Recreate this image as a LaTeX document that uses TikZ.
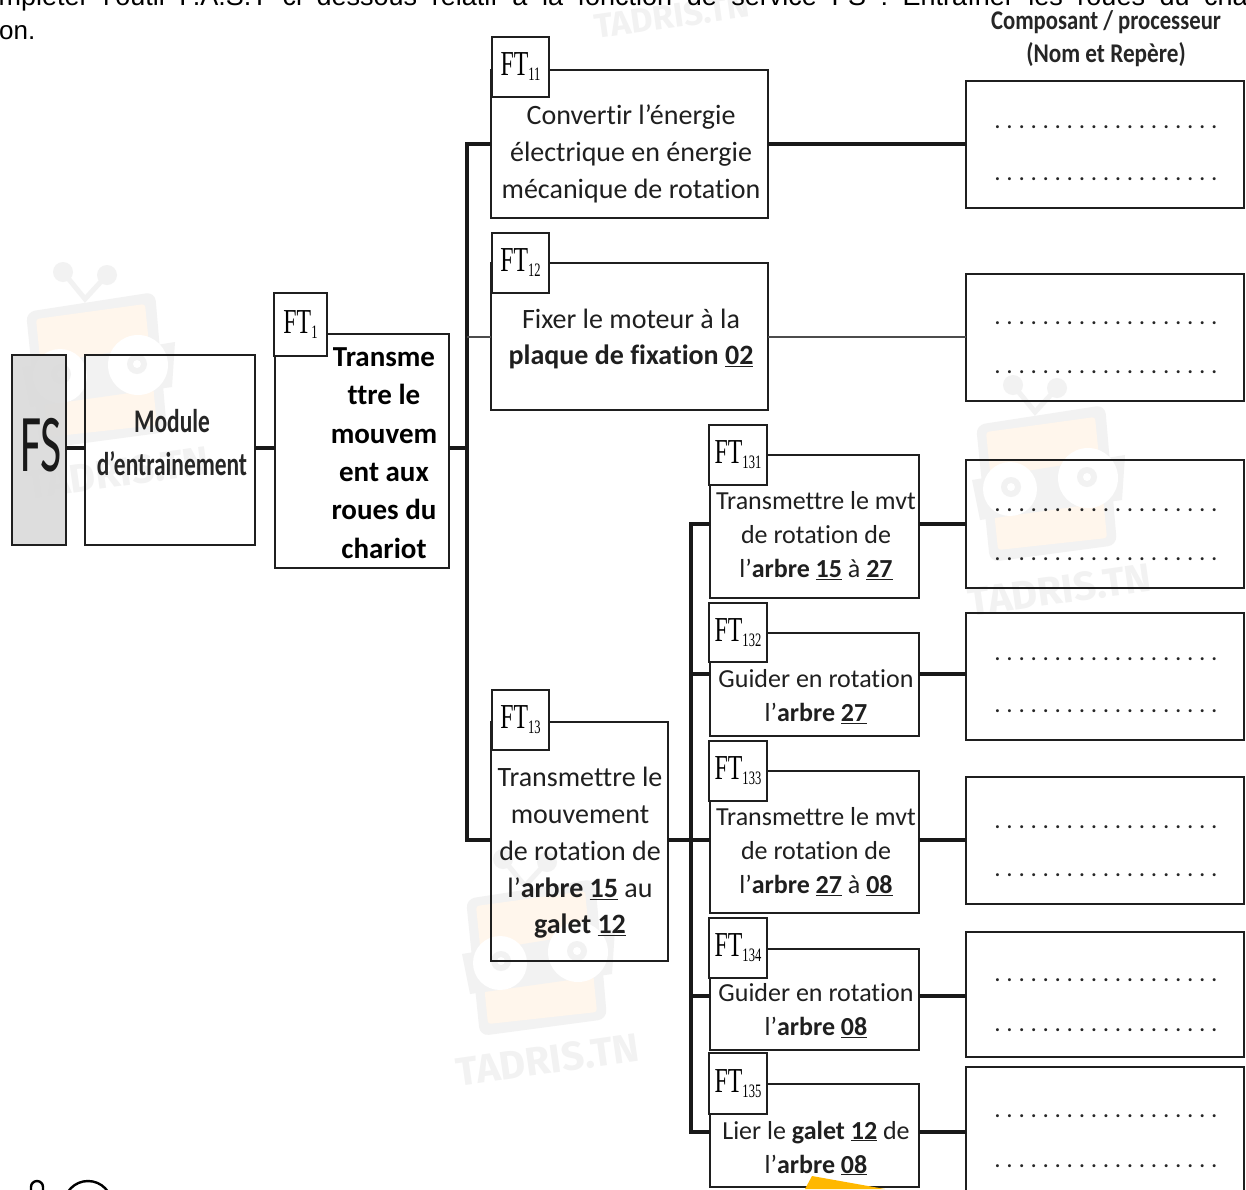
\documentclass[tikz,border=0pt]{standalone}
\usepackage{fontspec}
\setmainfont[Ligatures=NoCommon]{Carlito}
\newfontfamily\serf{Liberation Serif}
\newfontfamily\arial{Liberation Sans}
\newfontfamily\wmf{Fira Sans}
\definecolor{wmgrey}{gray}{0.95}
\definecolor{wmorange}{RGB}{255,246,236}
\definecolor{jaune}{RGB}{255,184,0}
\newcommand{\ftlab}[1]{\raisebox{-2pt}{\serf\fontsize{35}{35}\selectfont\scalebox{0.68}[1]{FT}\raisebox{-5pt}{\fontsize{19}{19}\selectfont\scalebox{0.66}[1]{#1}}}}
\newcommand{\mk}[1]{\textbf{\underline{#1}}}
\newcommand{\dotrow}{{\fontsize{20}{20}\bfseries\selectfont\spaceskip=6.7pt\xspaceskip=6.7pt . . . . . . . . . . . . . . . . . . .}}
\newcommand{\bx}[7][]{%
  \pgfmathsetmacro{\cxx}{(#3+#5)/2}\pgfmathsetmacro{\cyy}{(#4+#6)/2}%
  \pgfmathsetmacro{\wdd}{#5-#3}\pgfmathsetmacro{\htt}{#6-#4}%
  \node[boite,#1,minimum width=\wdd pt,minimum height=\htt pt] (#2) at (\cxx,\cyy) {#7};}
\tikzset{
  boite/.style={draw=black!88,line width=2.9pt,inner sep=0pt,outer sep=0pt,rectangle},
  tagbox/.style={fill=white},
  fsbox/.style={fill=black!15,fill opacity=0.88},
  lien/.style={draw=black!90,line width=3.3pt},
  fin/.style={draw=black!70,line width=2pt},
  txt/.style={align=center,inner sep=0pt,text=black!88,font=\fontsize{28}{36.8}\selectfont},
  txtb/.style={align=center,inner sep=0pt,text=black,font=\bfseries\fontsize{29}{38.4}\selectfont},
  mini/.style={align=center,inner sep=0pt,text=black!88,font=\fontsize{26}{34}\selectfont},
  rowdots/.style={inner sep=0pt,text=black!85},
  wm/.style={text=wmgrey,font=\wmf\bfseries\fontsize{40}{40}\selectfont,inner sep=0pt,rotate=8},
  robot/.pic={
    \draw[wmgrey,line width=5pt] (53,15) -- (75,42) -- (97,18);
    \fill[wmgrey] (53,15) circle (10) (97,18) circle (10);
    \fill[wmgrey,rounded corners=9pt] (16,55) -- (145,35) -- (157,175) -- (30,192) -- cycle;
    \fill[wmorange,rounded corners=3pt] (26,62) -- (135,47) -- (147,168) -- (38,180) -- cycle;
    \fill[wmgrey] (12,110) -- (165,85) -- (162,130) -- (20,150) -- cycle;
    \fill[white] (50,119) circle (27) (128,108) circle (30);
    \fill[wmgrey] (51,117) circle (10) (127,107) circle (10);
    \fill[white] (51,117) circle (4) (127,107) circle (4);
  },
}
\begin{document}
\begin{tikzpicture}[x=1pt,y=-1pt]
\useasboundingbox (0,0) rectangle (1246,1189);
\clip (0,0) rectangle (1246,1189);
\fill[white] (0,0) rectangle (1246,1189);
% watermarks
\pic at (960,370) {robot};
\pic at (450,844) {robot};
\pic at (10,257) {robot};
\node[wm] (w1) at (672,16) {\fontsize{34}{34}\selectfont TADRIS.TN};
\node[wm] (w2) at (548,1060) {TADRIS.TN};
\node[wm] (w3) at (1060,590) {TADRIS.TN};
\node[wm] (w4) at (118,473) {TADRIS.TN};
% header text
\node[anchor=base west,inner sep=0pt,font=\arial\fontsize{27}{27}\selectfont] (t1) at (-36,5) {\spaceskip=14.6pt Compléter l’outil F.A.S.T ci dessous relatif à la fonction de service FS : Entraîner les roues du chariot};
\node[anchor=base west,inner sep=0pt,font=\arial\fontsize{26}{26}\selectfont] (t2) at (-1,39) {on.};
\node[inner sep=0pt,text=black!85] (hd1) at (1106,22) {\bfseries\scalebox{0.84}[1]{\fontsize{27}{33}\selectfont Composant / processeur}};
\node[inner sep=0pt,text=black!85] (hd2) at (1106,55) {\bfseries\scalebox{0.86}[1]{\fontsize{27}{33}\selectfont (Nom et Repère)}};
% boxes
\bx[fsbox]{fs}{12}{355}{66}{545}{}
\bx{mod}{85}{355}{255}{545}{}
\bx{ft1}{275}{334}{449}{568}{}
\bx{ft11}{491}{70}{768}{218}{}
\bx{ft12}{491}{263}{768}{410}{}
\bx{ft13}{491}{722}{668}{961}{}
\bx{a1}{710}{455}{919}{598}{}
\bx{a2}{710}{633}{919}{736}{}
\bx{a3}{710}{771}{919}{913}{}
\bx{a4}{710}{949}{919}{1050}{}
\bx{a5}{710}{1084}{919}{1187}{}
\bx{r1}{966}{81}{1244}{208}{}
\bx{r2}{966}{274}{1244}{401}{}
\bx{r3}{966}{460}{1244}{588}{}
\bx{r4}{966}{613}{1244}{740}{}
\bx{r5}{966}{777}{1244}{904}{}
\bx{r6}{966}{932}{1244}{1057}{}
\bx{r7}{966}{1067}{1244}{1215}{}
% tags
\bx[tagbox]{t0}{274}{293}{327}{356}{\ftlab{1}}
\bx[tagbox]{t11}{492}{37}{549}{97}{\ftlab{11}}
\bx[tagbox]{t12}{492}{233}{549}{293}{\ftlab{12}}
\bx[tagbox]{t13}{492}{690}{549}{750}{\ftlab{13}}
\bx[tagbox]{t131}{709}{425}{767}{485}{\ftlab{131}}
\bx[tagbox]{t132}{709}{603}{767}{662}{\ftlab{132}}
\bx[tagbox]{t133}{709}{741}{767}{801}{\ftlab{133}}
\bx[tagbox]{t134}{709}{918}{767}{978}{\ftlab{134}}
\bx[tagbox]{t135}{709}{1053}{767}{1114}{\ftlab{135}}
% buses and branch levels
\coordinate (bA) at (467,448);
\coordinate (bB) at (691,840);
\coordinate (y1) at (0,524);
\coordinate (y2) at (0,674);
\coordinate (y4) at (0,996);
\coordinate (y5) at (0,1132);
\draw[lien] (fs.east |- bA) -- (mod.west |- bA);
\draw[lien] (mod.east |- bA) -- (ft1.west |- bA);
\draw[lien] (ft1.east |- bA) -- (bA);
\draw[lien] (ft11.west) -- (bA |- ft11.west) -- (bA |- bB) -- (ft13.west |- bB);
\draw[fin] (ft12.west) -- (bA |- ft12.west);
\draw[lien] (ft13.east |- bB) -- (bB);
\draw[lien] (a1.west |- y1) -- (bB |- y1) -- (bB |- y5) -- (a5.west |- y5);
\draw[lien] (a2.west |- y2) -- (bB |- y2);
\draw[lien] (a3.west |- bB) -- (bB);
\draw[lien] (a4.west |- y4) -- (bB |- y4);
\draw[lien] (ft11.east) -- (r1.west |- ft11.east);
\draw[fin] (ft12.east) -- (r2.west |- ft12.east);
\draw[lien] (a1.east |- y1) -- (r3.west |- y1);
\draw[lien] (a2.east |- y2) -- (r4.west |- y2);
\draw[lien] (a3.east |- bB) -- (r5.west |- bB);
\draw[lien] (a4.east |- y4) -- (r6.west |- y4);
\draw[lien] (a5.east |- y5) -- (r7.west |- y5);
% texts
\node[inner sep=0pt,text=black!90] (lfs) at (41,445) {\scalebox{0.56}[1]{\fontsize{82}{82}\selectfont FS}};
\node[inner sep=0pt,text=black!85] (lmod1) at (172,421) {\bfseries\scalebox{0.71}[1]{\fontsize{33}{43}\selectfont Module}};
\node[inner sep=0pt,text=black!85] (lmod2) at (172,464) {\bfseries\scalebox{0.71}[1]{\fontsize{33}{43}\selectfont d’entrainement}};
\node[txtb] (l1) at (384,453) {Transme\\ttre le\\mouvem\\ent aux\\roues du\\chariot};
\node[txt] (l11) at (631,154) {Convertir l’énergie\\électrique en énergie\\mécanique de rotation};
\node[txt] (l12) at (631,339) {Fixer le moteur à la\\\textbf{plaque de fixation} \mk{02}};
\node[txt] (l13) at (580,853) {Transmettre le\\mouvement\\de rotation de\\l’\textbf{arbre} \mk{15} au\\\textbf{galet} \mk{12}};
\node[mini] (l131) at (816,535.5) {Transmettre le mvt\\de rotation de\\l’\textbf{arbre} \mk{15} à \mk{27}};
\node[mini] (l132) at (816,696.5) {Guider en rotation\\l’\textbf{arbre} \mk{27}};
\node[mini] (l133) at (816,851.5) {Transmettre le mvt\\de rotation de\\l’\textbf{arbre} \mk{27} à \mk{08}};
\node[mini] (l134) at (816,1010.5) {Guider en rotation\\l’\textbf{arbre} \mk{08}};
\node[mini] (l135) at (816,1148) {Lier le \textbf{galet} \mk{12} de\\l’\textbf{arbre} \mk{08}};
% dotted rows
\foreach \n/\y in {1/126,2/178,3/322,4/371,5/509,6/558,7/658,8/710,9/826,10/874,11/979,12/1029,13/1115,14/1165}{
  \node[rowdots,anchor=base] (dr\n) at (1106,\y+2) {\dotrow};
}
% bottom marks
\fill[jaune] (812,1176) -- (805,1189) -- (885,1189) -- cycle;
\draw[line width=2.4pt] (88,1205) circle (24);
\draw[line width=2.4pt] (31,1195) -- (31,1187) arc (180:360:6) -- (43,1195);
\end{tikzpicture}
\end{document}
